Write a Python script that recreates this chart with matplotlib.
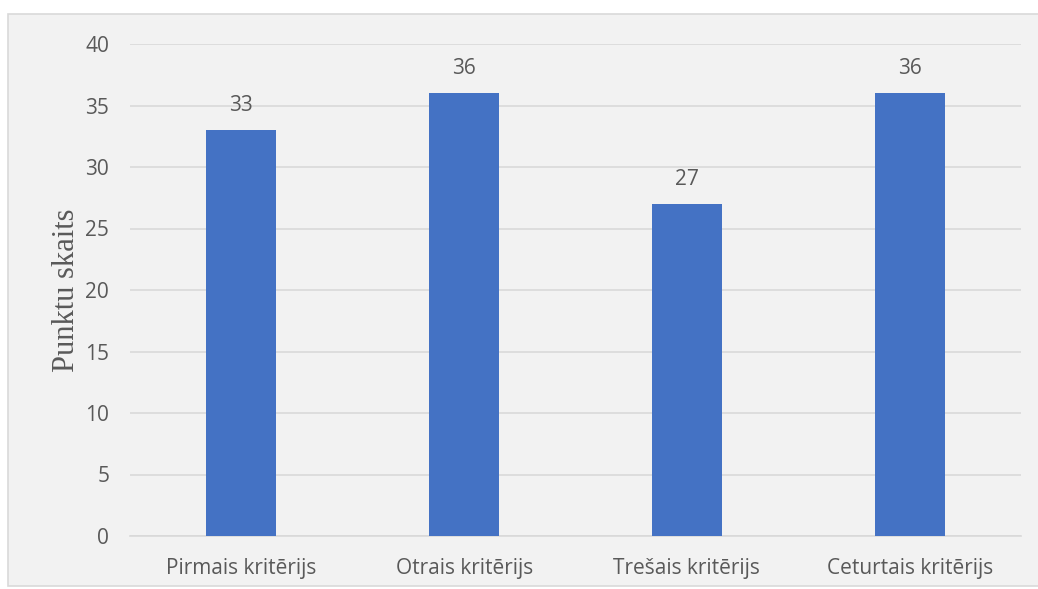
import matplotlib.pyplot as plt
from matplotlib.patches import Rectangle

# Data
categories = ['Pirmais kritērijs', 'Otrais kritērijs', 'Trešais kritērijs', 'Ceturtais kritērijs']
points = [33, 36, 27, 36]
y_ticks = [0, 5, 10, 15, 20, 25, 30, 35, 40]

text_color = '#595959'

fig = plt.figure(figsize=(10.38, 5.89), dpi=100)
fig.patch.set_facecolor('white')

# Chart area background with thin border
fig.patches.append(Rectangle((8 / 1038, 0.005), 1.0, (589 - 14) / 589 - 0.005,
                             transform=fig.transFigure, facecolor='#F2F2F2',
                             edgecolor='#D9D9D9', linewidth=1.2, zorder=-10))

ax = fig.add_axes([130 / 1038, (589 - 536) / 589, (1021 - 130) / 1038, (536 - 44) / 589])
ax.set_facecolor('none')

x = range(len(categories))
bars = ax.bar(x, points, width=0.315, color='#4472C4', zorder=3)

for xi, v in zip(x, points):
    ax.annotate(str(v), (xi, v), xytext=(0, 10), textcoords='offset points',
                ha='center', va='bottom', fontsize=15, color=text_color, family='Open Sans')

ax.set_ylim(0, 40)
ax.set_xlim(-0.5, len(categories) - 0.5)
ax.set_yticks(y_ticks)
ax.set_xticks(list(x))
ax.set_xticklabels(categories)
ax.grid(axis='y', color='#D9D9D9', linewidth=1.2, zorder=0)
for s in ['top', 'right', 'left']:
    ax.spines[s].set_visible(False)
ax.spines['bottom'].set_color('#D9D9D9')
ax.spines['bottom'].set_linewidth(1.2)
ax.tick_params(axis='both', length=0, labelsize=15, labelcolor=text_color)
ax.tick_params(axis='y', pad=15)
ax.tick_params(axis='x', pad=16)
for lab in ax.get_xticklabels() + ax.get_yticklabels():
    lab.set_family('Open Sans')

ax.set_ylabel('Punktu skaits', family='Liberation Serif', fontsize=22, color=text_color, labelpad=3)

fig.savefig('out.png', dpi=100, facecolor='white')
